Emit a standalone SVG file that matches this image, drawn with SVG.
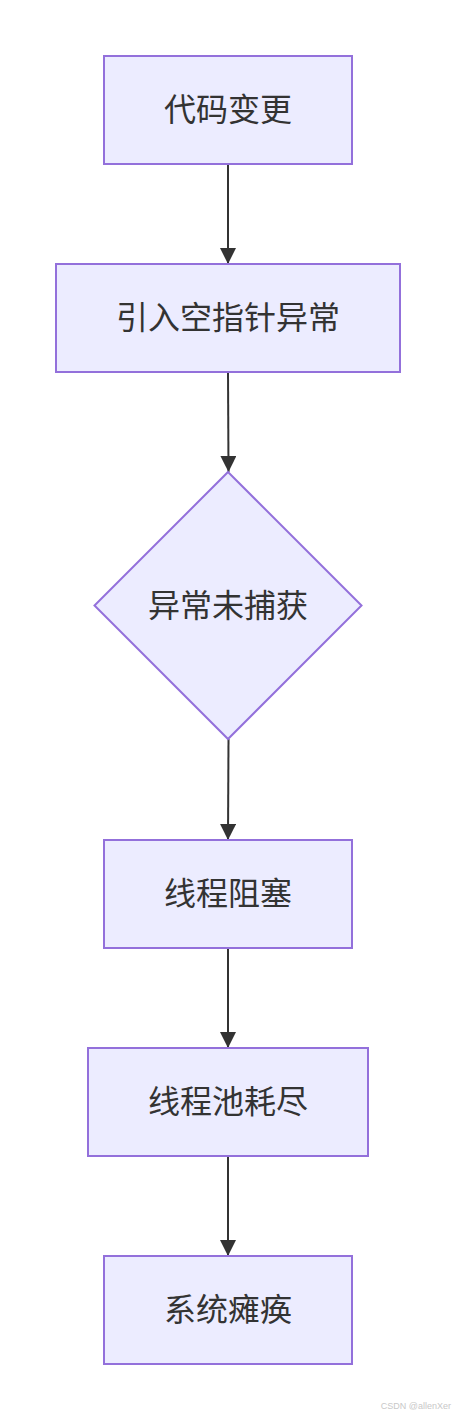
<svg xmlns="http://www.w3.org/2000/svg" width="455" height="1419" viewBox="0 0 455 1419">
<style>
.node rect,.node polygon{fill:#ECECFF;stroke:#9370DB;stroke-width:2}
.node text{font-family:"Noto Sans CJK SC","Noto Sans",sans-serif;font-size:32px;fill:#333;text-anchor:middle;dominant-baseline:central}
.edge{stroke:#333;stroke-width:2;fill:none;marker-end:url(#arrow)}
.wm{font-family:"Liberation Sans",Arial,sans-serif;font-size:9px;fill:#c8c8c8;text-anchor:end}
</style>
<defs>
<marker id="arrow" viewBox="0 0 16 16" refX="16" refY="8" markerWidth="16" markerHeight="16" markerUnits="userSpaceOnUse" orient="auto">
<path d="M0,0 L16,8 L0,16 z" fill="#333"/>
</marker>
</defs>
<rect width="455" height="1419" fill="#fff"/>
<g id="connectors">
<path class="edge" d="M228,164 L228,264"/>
<path class="edge" d="M228,372 L228.5,472"/>
<path class="edge" d="M228.5,739 L228,840"/>
<path class="edge" d="M228,948 L228,1048"/>
<path class="edge" d="M228,1156 L228,1256"/>
</g>
<g id="n1" class="node"><rect x="104" y="56" width="248" height="108"/><text x="228" y="107">代码变更</text></g>
<g id="n2" class="node"><rect x="56" y="264" width="344" height="108"/><text x="228" y="315">引入空指针异常</text></g>
<g id="n3" class="node"><polygon points="228,472 361.5,605.5 228,739 94.5,605.5"/><text x="228" y="603">异常未捕获</text></g>
<g id="n4" class="node"><rect x="104" y="840" width="248" height="108"/><text x="228" y="891">线程阻塞</text></g>
<g id="n5" class="node"><rect x="88" y="1048" width="280" height="108"/><text x="228" y="1099">线程池耗尽</text></g>
<g id="n6" class="node"><rect x="104" y="1256" width="248" height="108"/><text x="228" y="1307">系统瘫痪</text></g>
<text class="wm" x="451" y="1409">CSDN @allenXer</text>
</svg>
